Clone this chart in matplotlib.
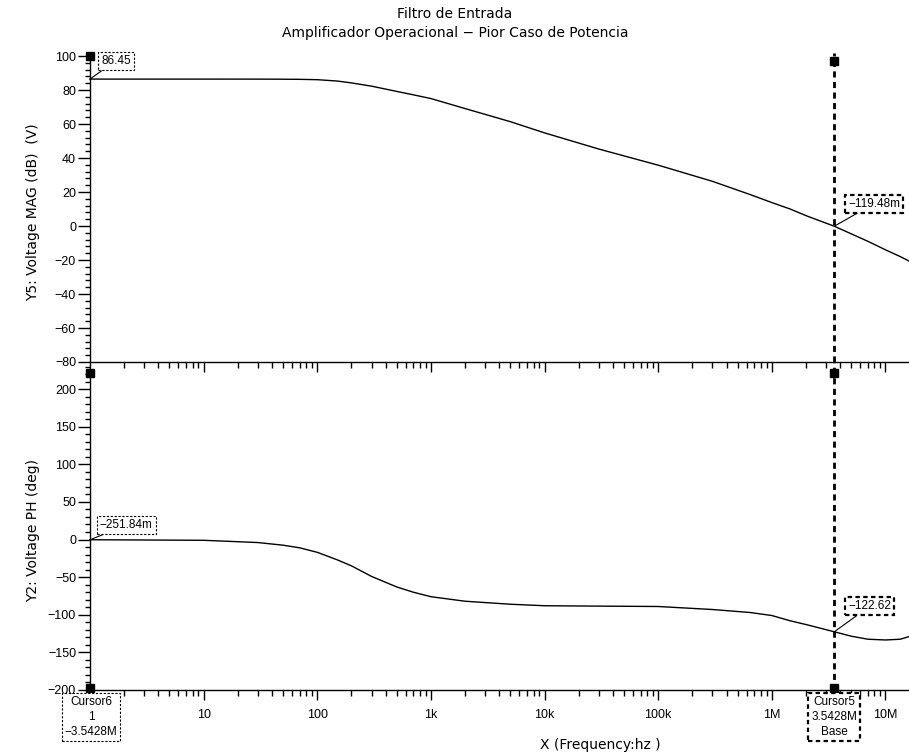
import numpy as np
import matplotlib
matplotlib.use("Agg")
import matplotlib.pyplot as plt
from matplotlib.ticker import FixedLocator, NullFormatter, MultipleLocator

plt.rcParams['font.family'] = ['Liberation Sans', 'DejaVu Sans']
LAB = ['DejaVu Sans']

# ---- data ----
freq = [1, 10, 30, 50, 70, 100, 150, 200, 300, 500, 700, 1e3, 2e3, 5e3, 1e4,
        3e4, 1e5, 3e5, 6.45e5, 1e6, 1.45e6, 2e6, 3.5428e6, 5e6, 7e6, 1e7,
        1.35e7, 1.61e7]
mag_db = [86.45, 86.45, 86.43, 86.38, 86.3, 86.1, 85.3, 84.2, 82.3, 79.2, 77.2,
          75.0, 69.1, 61.4, 54.8, 45.3, 35.8, 26.3, 18.5, 13.8, 10.0, 6.1,
          -0.119, -4.6, -9.0, -14.0, -18.0, -20.6]
phase_deg = [-0.25, -1.0, -4.0, -7.5, -11.0, -17.0, -27.0, -35.0, -49.0, -63.0,
             -70.0, -76.0, -82.0, -86.0, -88.0, -88.5, -89.0, -93.0, -97.0,
             -101.0, -108.0, -113.0, -122.62, -128.5, -132.5, -133.5, -132.5,
             -129.0]
cursor_a = 1.0
cursor_b = 3.5428e6
xtick_vals = [10, 100, 1e3, 1e4, 1e5, 1e6, 1e7]
xtick_labels = ['10', '100', '1k', '10k', '100k', '1M', '10M']

W, H = 909, 753
fig = plt.figure(figsize=(W / 100, H / 100), dpi=100)

def fx(px):
    return px / W

def fy(py):
    return 1 - py / H

left = fx(90)
width = fx(909) - left
ax1 = fig.add_axes([left, fy(362), width, fy(53) - fy(362)])
ax2 = fig.add_axes([left, fy(690), width, fy(362) - fy(690)])

xmin, xmax = 1.0, 1.61e7
minor_x = [m * 10 ** d for d in range(0, 8) for m in range(2, 10) if m * 10 ** d < xmax]

for ax in (ax1, ax2):
    ax.patch.set_visible(False)
    ax.set_xscale('log')
    ax.set_xlim(xmin, xmax)
    for s in ('top', 'right'):
        ax.spines[s].set_visible(False)
    ax.spines['left'].set_linewidth(1.0)
    ax.spines['bottom'].set_linewidth(1.0)
    ax.xaxis.set_major_locator(FixedLocator(xtick_vals))
    ax.xaxis.set_minor_locator(FixedLocator(minor_x))
    ax.xaxis.set_minor_formatter(NullFormatter())
    ax.tick_params(axis='x', which='major', direction='out', length=7, width=1, labelsize=9, pad=7)
    ax.tick_params(axis='x', which='minor', direction='out', length=4, width=1)
    ax.tick_params(axis='y', which='major', direction='out', length=8.5, width=1, labelsize=9, pad=1.5)
    ax.tick_params(axis='y', which='minor', direction='out', length=3.5, width=1)

ax1.set_ylim(-80, 101.8)
ax1.yaxis.set_major_locator(FixedLocator(list(range(-80, 101, 20))))
ax1.yaxis.set_minor_locator(MultipleLocator(4))
ax1.set_xticklabels([])
ax1.plot(freq, mag_db, color='black', lw=1.0, clip_on=False)

ax2.set_ylim(-200, 236)
ax2.yaxis.set_major_locator(FixedLocator(list(range(-200, 201, 50))))
ax2.yaxis.set_minor_locator(MultipleLocator(10))
ax2.set_xticklabels(xtick_labels)
ax2.plot(freq, phase_deg, color='black', lw=1.0, clip_on=False)

fig.text(fx(33), fy(212), 'Y5: Voltage MAG (dB)  (V)', rotation=90, ha='center', va='center',
         fontsize=10, family=LAB)
fig.text(fx(33), fy(530), 'Y2: Voltage PH (deg)', rotation=90, ha='center', va='center',
         fontsize=10, family=LAB)
fig.text(fx(600), fy(745), 'X (Frequency:hz )', ha='center', va='center', fontsize=10, family=LAB)
fig.text(fx(455), fy(14), 'Filtro de Entrada', ha='center', va='center', fontsize=10, family=LAB)
fig.text(fx(455), fy(33), 'Amplificador Operacional \u2212 Pior Caso de Potencia',
         ha='center', va='center', fontsize=10, family=LAB)

# cursors
for ax in (ax1, ax2):
    ax.axvline(cursor_b, color='black', lw=2.0, ls=(0, (2.2, 1.6)), clip_on=False)
ax1.plot([cursor_a], [100], marker='s', ms=6, color='black', clip_on=False)
ax1.plot([cursor_b], [97], marker='s', ms=6, color='black', clip_on=False)
ax2.plot([cursor_a, cursor_b], [222, 222], marker='s', ms=6, ls='none', color='black', clip_on=False)
ax2.plot([cursor_a, cursor_b], [-197, -197], marker='s', ms=6, ls='none', color='black', clip_on=False)

# value annotations
def val_box(ax, x, y, txt, dx, dy, lw):
    ax.annotate(txt, xy=(x, y), xytext=(dx, dy), textcoords='offset points',
                fontsize=8.5, ha='left', va='bottom',
                bbox=dict(boxstyle='square,pad=0.25', fc='white', ec='black', ls=(0, (2, 1.5)), lw=lw),
                arrowprops=dict(arrowstyle='-', color='black', lw=0.8, shrinkA=0, shrinkB=0))

val_box(ax1, cursor_a, 86.45, '86.45', 8, 9, 0.8)
val_box(ax1, cursor_b, -0.119, '\u2212119.48m', 10, 12, 1.6)
val_box(ax2, cursor_a, -0.25, '\u2212251.84m', 7, 6, 0.8)
val_box(ax2, cursor_b, -122.62, '\u2212122.62', 10, 14, 1.6)

# cursor legend boxes
fig.text(fx(91), fy(717), 'Cursor6\n1\n\u22123.5428M', ha='center', va='center', fontsize=8.5,
         linespacing=1.35,
         bbox=dict(boxstyle='square,pad=0.25', fc='white', ec='black', ls=(0, (2, 1.5)), lw=0.8))
fig.text(fx(834), fy(717), 'Cursor5\n3.5428M\nBase', ha='center', va='center', fontsize=8.5,
         linespacing=1.35,
         bbox=dict(boxstyle='square,pad=0.25', fc='white', ec='black', ls=(0, (2, 1.5)), lw=1.6))

fig.savefig('out.png', dpi=100)
